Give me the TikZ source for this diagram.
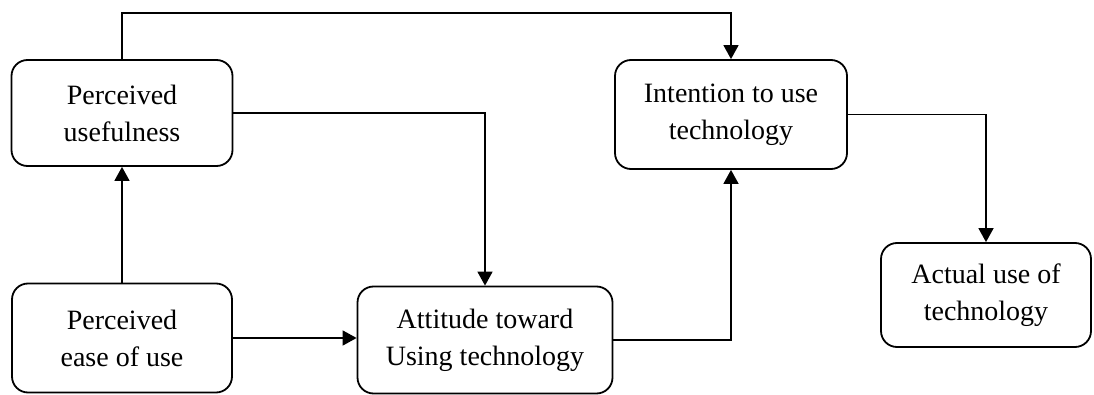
\documentclass[tikz,border=0pt]{standalone}
\usepackage{fontspec}
\setmainfont{Liberation Serif}
\usetikzlibrary{arrows.meta}
\begin{document}
\begin{tikzpicture}[x=1pt,y=-1pt,
  box/.style={draw, line width=1.8pt, rounded corners=16pt, align=center,
    inner sep=0pt, font=\fontsize{28}{37}\selectfont},
  link/.style={line width=1.6pt, -{Triangle[length=14pt,width=15pt]}}]
  \useasboundingbox (0,0) rectangle (1094,395);

  % constructs of the model
  \node[box, minimum width=221pt, minimum height=106pt] (pu)  at (122,113)   {Perceived\\usefulness};
  \node[box, minimum width=220pt, minimum height=109pt] (peu) at (122,338)   {Perceived\\ease of use};
  \node[box, minimum width=255pt, minimum height=107pt] (att) at (485,340)   {Attitude toward\\Using technology};
  \node[box, minimum width=232pt, minimum height=109pt] (int) at (731,114.5) {Intention to use\\technology};
  \node[box, minimum width=210pt, minimum height=104pt] (act) at (986,295)   {Actual use of\\technology};

  \coordinate (top) at (122,13);

  % causal paths
  \draw[link] (peu.north) -- (pu.south);
  \draw[link] (peu.east) -- (peu.east -| att.west);
  \draw[link] (pu.east) -| (att.north);
  \draw[link] (pu.north) -- (top) -| (int.north);
  \draw[link] (att.east) -| (int.south);
  \draw[link] (int.east) -| (act.north);
\end{tikzpicture}
\end{document}
